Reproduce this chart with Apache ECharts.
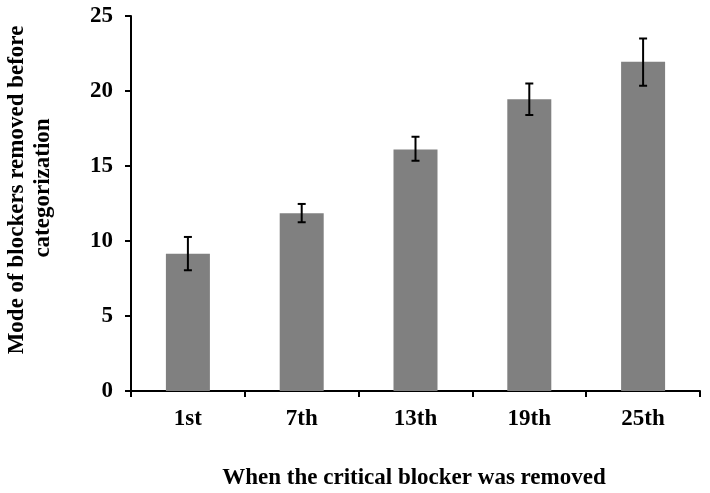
<!DOCTYPE html>
<html>
<head>
<meta charset="utf-8">
<script src="https://cdn.jsdelivr.net/npm/echarts@6/dist/echarts.min.js"></script>
<style>html,body{margin:0;padding:0;background:#fff}#c{width:710px;height:493px}</style>
</head>
<body>
<div id="c"></div>
<script>
const categories = ['1st', '7th', '13th', '19th', '25th'];
const means = [9.15, 11.85, 16.1, 19.45, 21.95];
const errLow = [8.05, 11.25, 15.35, 18.4, 20.35];
const errHigh = [10.27, 12.47, 16.95, 20.5, 23.5];
const yTicks = [0, 5, 10, 15, 20, 25];

const FONT = '"Liberation Serif","Times New Roman",serif';
const chart = echarts.init(document.getElementById('c'), null, {renderer: 'canvas'});
const errData = categories.map((c, i) => [i, errLow[i], errHigh[i]]);

chart.setOption({
  animation: false,
  backgroundColor: '#fff',
  grid: {left: 131, right: 10, top: 16, bottom: 102, containLabel: false},
  xAxis: {
    type: 'category',
    data: categories,
    boundaryGap: true,
    axisLine: {lineStyle: {color: '#000', width: 2}},
    axisTick: {show: true, inside: false, length: 6, lineStyle: {color: '#000', width: 2}, alignWithLabel: false},
    axisLabel: {color: '#000', fontFamily: FONT, fontWeight: 'bold', fontSize: 23, margin: 17}
  },
  yAxis: {
    type: 'value',
    min: 0, max: 25, interval: 5,
    splitLine: {show: false},
    axisLine: {show: true, lineStyle: {color: '#000', width: 2}},
    axisTick: {show: true, inside: false, length: 6, lineStyle: {color: '#000', width: 2}},
    axisLabel: {color: '#000', fontFamily: FONT, fontWeight: 'bold', fontSize: 23, margin: 18,
      formatter: v => yTicks.includes(v) ? String(v) : ''}
  },
  graphic: [
    {type: 'text', x: 17, y: 190, rotation: Math.PI / 2, originX: 0, originY: 0,
      style: {text: 'Mode of blockers removed before', fill: '#000', font: 'bold 23px ' + FONT, align: 'center', verticalAlign: 'middle'}},
    {type: 'text', x: 43, y: 188, rotation: Math.PI / 2, originX: 0, originY: 0,
      style: {text: 'categorization', fill: '#000', font: 'bold 23px ' + FONT, align: 'center', verticalAlign: 'middle'}},
    {type: 'text', x: 414, y: 478,
      style: {text: 'When the critical blocker was removed', fill: '#000', font: 'bold 23px ' + FONT, align: 'center', verticalAlign: 'middle'}}
  ],
  series: [
    {type: 'bar', data: means, barWidth: 44, itemStyle: {color: '#808080'}, z: 2},
    {type: 'custom', data: errData, z: 5,
      renderItem: function (params, api) {
        const x = api.value(0);
        const lo = api.coord([x, api.value(1)]);
        const hi = api.coord([x, api.value(2)]);
        const cap = 4;
        const st = {stroke: '#000', lineWidth: 2};
        return {type: 'group', children: [
          {type: 'line', shape: {x1: lo[0], y1: lo[1], x2: hi[0], y2: hi[1]}, style: st},
          {type: 'line', shape: {x1: lo[0] - cap, y1: lo[1], x2: lo[0] + cap, y2: lo[1]}, style: st},
          {type: 'line', shape: {x1: hi[0] - cap, y1: hi[1], x2: hi[0] + cap, y2: hi[1]}, style: st}
        ]};
      }
    }
  ]
});
</script>
</body>
</html>
